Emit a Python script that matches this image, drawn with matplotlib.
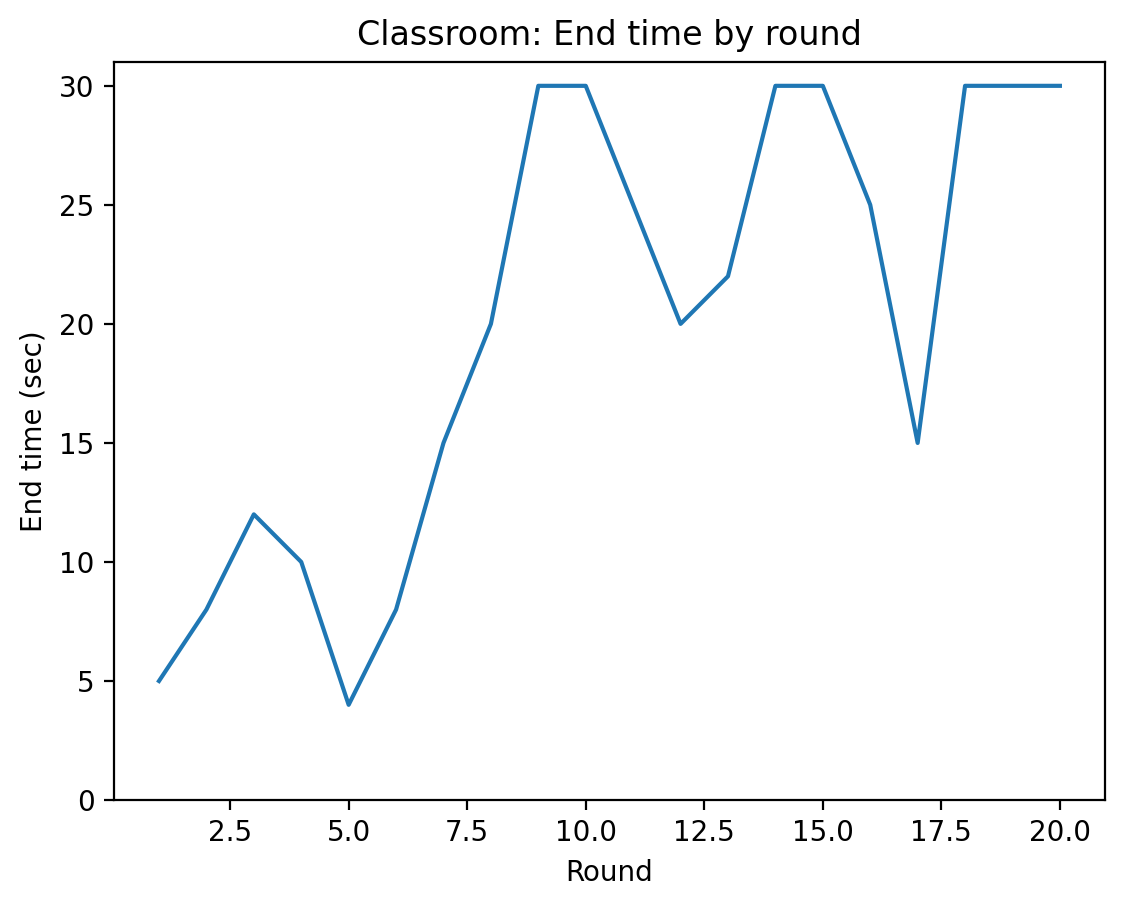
import matplotlib
matplotlib.use("Agg")
import matplotlib.pyplot as plt

rounds = list(range(1, 21))
end_times = [5, 8, 12, 10, 4, 8, 15, 20, 30, 30, 25, 20, 22, 30, 30, 25, 15, 30, 30, 30]

fig = plt.figure(figsize=(5.63, 4.54), dpi=200)
ax = fig.add_axes([0.1012, 0.1189, 0.8801, 0.8128])
ax.plot(rounds, end_times, color="#1f77b4")
ax.set_ylim(0, 31)
ax.set_xlabel("Round")
ax.set_ylabel("End time (sec)")
ax.set_title("Classroom: End time by round")
fig.savefig("out.png", dpi=200)
